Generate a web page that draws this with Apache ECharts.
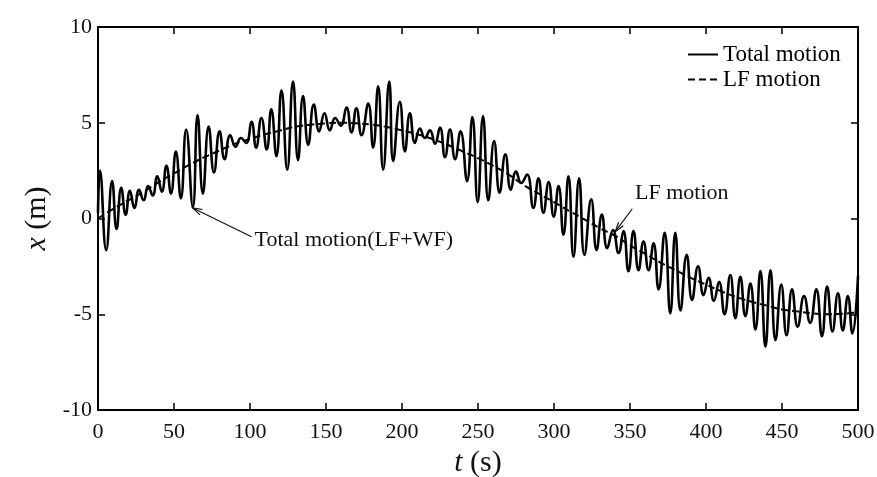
<!DOCTYPE html>
<html><head><meta charset="utf-8">
<script src="https://cdn.jsdelivr.net/npm/echarts@6/dist/echarts.min.js"></script>
<style>html,body{margin:0;padding:0;background:#fff}#c{width:877px;height:477px}</style>
</head><body><div id="c"></div>
<script>
// ---- data ----
const xTickValues = [0, 50, 100, 150, 200, 250, 300, 350, 400, 450, 500];
const xTickLabels = ['0', '50', '100', '150', '200', '250', '300', '350', '400', '450', '500'];
const yTickValues = [-10, -5, 0, 5, 10];
const yTickLabels = ['-10', '-5', '0', '5', '10'];
const seriesNames = ['Total motion', 'LF motion'];

// LF motion (every 10 s)
const lfTime = [0,10,20,30,40,50,60,70,80,90,100,110,120,130,140,150,160,170,180,190,200,210,220,230,240,250,260,270,280,290,300,310,320,330,340,350,360,370,380,390,400,410,420,430,440,450,460,470,480,490,500];
const lfDisp = [0,0.5,0.95,1.4,1.9,2.35,2.8,3.2,3.55,3.9,4.15,4.4,4.6,4.8,4.9,4.97,5.0,4.97,4.9,4.78,4.6,4.4,4.15,3.85,3.5,3.15,2.75,2.3,1.75,1.3,0.85,0.4,-0.05,-0.5,-0.9,-1.4,-1.85,-2.3,-2.7,-3.1,-3.45,-3.8,-4.1,-4.35,-4.55,-4.75,-4.85,-4.95,-5.0,-4.97,-4.9];

// Total motion: successive crests and troughs (time, displacement)
const totalTime = [0,1.3,5.4,9.3,12.2,15.3,18.2,21,24,27,30,33,36,39,42,45,48,51.2,54.5,58,62.4,65.5,69,72.8,76.3,80,83.3,87,90.5,94,97.5,101,104,107.5,111,114,117.4,120.7,124.5,128.3,131.6,134.9,138.3,142,145.5,149,152.5,156,159.7,163.5,166.8,170,173.4,177.8,181,184.3,187.6,191.6,194.2,198.6,201.9,205.2,208.5,211.8,215,218.4,221.7,225,228.3,231.6,234.9,238.5,242.8,246.3,249.8,253.3,256.8,260.6,264.2,268,271.6,275,278.5,282.3,286.4,289.8,293,296.5,299.8,303,306.2,309.5,312.8,316.5,320,324.5,328,331.5,335,338.8,342.5,345.7,349,352.3,355.6,358.9,362.2,365.5,368.8,372.8,376.5,379.8,383.2,387.3,390.8,394.8,398.4,401.7,405.2,408.6,412.2,416,419.3,422.6,425.9,429.2,432.5,435.8,439.1,442.4,445.7,449.5,453,456.6,460.3,464.5,468.5,472.6,476.3,479.7,483.2,486.8,490,493.3,496.3,500];
const totalDisp = [0.3,2.5,-1.65,1.95,-0.55,1.6,0.2,1.45,0.55,1.5,0.95,1.7,1.2,2.2,1.4,2.75,1.3,3.5,1.05,4.65,0.6,5.4,1.3,4.8,2.4,4.55,3.1,4.35,3.75,4.2,3.95,5.05,3.7,5.25,3.6,5.7,3.25,6.7,2.55,7.15,3.05,6.4,3.85,5.95,4.55,5.5,4.6,5.25,4.85,5.8,4.5,5.75,4.35,6.0,3.7,6.9,2.55,7.15,3.0,6.1,3.5,5.5,3.95,4.7,4.2,4.6,3.9,4.75,3.2,4.65,3.1,4.55,1.95,5.3,0.85,5.35,0.95,4.05,1.35,3.35,1.5,2.45,1.85,2.3,0.55,2.1,0.3,1.9,0.1,1.7,-0.85,2.2,-2.0,2.1,-1.9,1.0,-1.65,0.2,-1.55,-0.6,-1.8,-0.65,-2.75,-0.65,-2.7,-1.2,-2.7,-1.3,-3.7,-0.75,-4.95,-0.75,-4.8,-1.9,-4.25,-2.5,-4.0,-3.1,-4.3,-3.3,-5.0,-2.95,-5.2,-3.05,-5.1,-3.4,-5.8,-2.75,-6.7,-2.7,-6.35,-3.45,-6.1,-3.7,-5.65,-4.05,-5.45,-3.7,-6.15,-3.55,-5.9,-3.9,-5.85,-4.05,-6.0,-3.0];

// annotations (data coordinates)
const noteTotal = {text: 'Total motion(LF+WF)', head: [62.3, 0.55], tail: [101, -0.95], at: [103, -1.15]};
const noteLF = {text: 'LF motion', head: [340.3, -0.69], tail: [351.5, 0.51], at: [353.3, 1.3]};

// ---- chart ----
const serif = 'Liberation Serif';
const zip = (a, b) => a.map((v, i) => [v, b[i]]);
const chart = echarts.init(document.getElementById('c'), null, {renderer: 'canvas'});
const lab = (vals, labs) => v => { const i = vals.indexOf(v); return i >= 0 ? labs[i] : ''; };
const axLine = {show: true, onZero: false, lineStyle: {color: '#000', width: 2}};
const tick = {show: true, inside: true, length: 7, lineStyle: {color: '#000', width: 1.5}};

chart.setOption({
  animation: false,
  backgroundColor: '#fff',
  grid: {left: 98, right: 19, top: 27, bottom: 67, containLabel: false, outerBoundsMode: 'none'},
  legend: {
    data: seriesNames, orient: 'vertical', left: 682, top: 38,
    itemWidth: 30, itemHeight: 12, itemGap: 2,
    itemStyle: {color: 'rgba(0,0,0,0)', borderColor: 'rgba(0,0,0,0)', borderWidth: 0, opacity: 0},
    textStyle: {fontFamily: serif, fontSize: 23, color: '#000', lineHeight: 20}
  },
  xAxis: [
    {type: 'value', min: 0, max: 500, interval: 50, position: 'bottom',
     axisLine: axLine, axisTick: tick, splitLine: {show: false},
     axisLabel: {fontFamily: serif, fontSize: 22, color: '#111', margin: 11, formatter: lab(xTickValues, xTickLabels)},
     name: '{i|t} (s)', nameLocation: 'middle', nameGap: 33,
     nameTextStyle: {fontFamily: serif, fontSize: 30, color: '#111', rich: {i: {fontFamily: serif, fontStyle: 'italic', fontSize: 30, color: '#111'}}}},
    {type: 'value', min: 0, max: 500, interval: 50, position: 'top',
     axisLine: axLine, axisTick: tick, axisLabel: {show: false}, splitLine: {show: false}}
  ],
  yAxis: [
    {type: 'value', min: -10, max: 10, interval: 5, position: 'left',
     axisLine: axLine, axisTick: tick, splitLine: {show: false},
     axisLabel: {fontFamily: serif, fontSize: 22, color: '#111', margin: 6, formatter: lab(yTickValues, yTickLabels)},
     name: '{i|x} (m)', nameLocation: 'middle', nameGap: 43, nameRotate: 90,
     nameTextStyle: {fontFamily: serif, fontSize: 30, color: '#111', rich: {i: {fontFamily: serif, fontStyle: 'italic', fontSize: 30, color: '#111'}}}},
    {type: 'value', min: -10, max: 10, interval: 5, position: 'right',
     axisLine: axLine, axisTick: tick, axisLabel: {show: false}, splitLine: {show: false}}
  ],
  series: [
    {name: seriesNames[0], type: 'line', data: zip(totalTime, totalDisp), showSymbol: false, symbol: 'none',
     smooth: 0.5, lineStyle: {color: '#000', width: 2.6}, itemStyle: {color: '#000'}, z: 3},
    {name: seriesNames[1], type: 'line', data: zip(lfTime, lfDisp), showSymbol: false, symbol: 'none',
     smooth: 0.5, lineStyle: {color: '#000', width: 2, type: [7, 4]}, itemStyle: {color: '#000'}, z: 4}
  ]
});

function arrowGraphics(note) {
  const h = chart.convertToPixel({gridIndex: 0}, note.head);
  const t = chart.convertToPixel({gridIndex: 0}, note.tail);
  const p = chart.convertToPixel({gridIndex: 0}, note.at);
  const ang = Math.atan2(t[1] - h[1], t[0] - h[0]);
  const L = 10, a = 0.3;
  const w1 = [h[0] + L * Math.cos(ang + a), h[1] + L * Math.sin(ang + a)];
  const w2 = [h[0] + L * Math.cos(ang - a), h[1] + L * Math.sin(ang - a)];
  return [
    {type: 'line', shape: {x1: t[0], y1: t[1], x2: h[0], y2: h[1]}, style: {stroke: '#111', lineWidth: 1.2}, z: 10},
    {type: 'polyline', shape: {points: [w1, h, w2]}, style: {stroke: '#111', lineWidth: 1.2, fill: null}, z: 10},
    {type: 'text', x: p[0], y: p[1], style: {text: note.text, font: '22px "Liberation Serif"', fill: '#111', verticalAlign: 'middle'}, z: 10}
  ];
}
chart.setOption({graphic: [...arrowGraphics(noteTotal), ...arrowGraphics(noteLF)]});
</script></body></html>
